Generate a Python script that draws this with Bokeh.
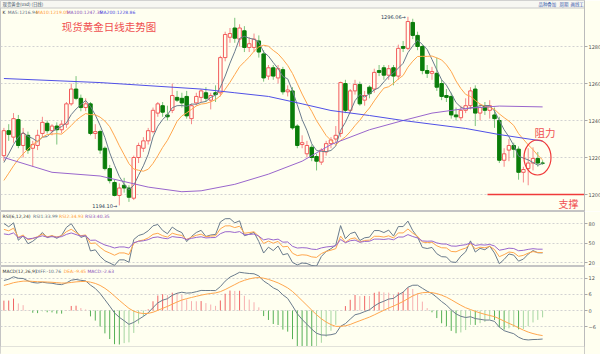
import numpy as np
from bokeh.plotting import figure
from bokeh.layouts import column
from bokeh.models import Range1d, FixedTicker, ColumnDataSource, BoxAnnotation, Label
from bokeh.core.properties import value
from bokeh.embed import file_html
from bokeh.resources import INLINE

# ---------------- data ----------------
opens = [1221, 1234.5, 1231, 1240.5, 1226.5, 1232, 1225, 1226.5, 1233, 1238.5,
         1234.5, 1237, 1235, 1238, 1249, 1257, 1252, 1247, 1249, 1233,
         1234, 1225, 1214, 1206.5, 1199.5, 1205, 1203.5, 1198, 1220, 1225,
         1229, 1234, 1244, 1248, 1243, 1245.5, 1252.5, 1252, 1253, 1241,
         1249.5, 1252.5, 1255, 1251, 1255, 1255, 1274, 1285, 1290, 1284,
         1288.5, 1279.5, 1279.5, 1283, 1276, 1264, 1268.5, 1263, 1267.5, 1255.5,
         1256, 1237, 1227, 1222, 1225.5, 1220.5, 1217.5, 1223, 1227.5, 1230,
         1233, 1260, 1245.5, 1256, 1259.5, 1251, 1258, 1257, 1267, 1268.5,
         1264.5, 1268.5, 1264, 1280, 1279, 1293, 1286, 1280, 1267, 1265.5,
         1265.5, 1260, 1253.5, 1253, 1243, 1241.5, 1245.5, 1248, 1257, 1244,
         1248, 1245.5, 1243, 1240, 1218.5, 1224, 1226.5, 1224.5, 1212, 1214,
         1217, 1219.5, 1217]
highs = [1236, 1238, 1244, 1243, 1236, 1234, 1229, 1235, 1242, 1240,
         1238, 1239, 1240, 1250, 1260, 1264, 1254, 1252, 1250, 1238,
         1235, 1226, 1216, 1208, 1206, 1209, 1205, 1221, 1228, 1231,
         1236, 1247, 1250, 1250, 1248, 1260, 1256, 1255, 1256, 1249,
         1255, 1257, 1258, 1255, 1259, 1275, 1288, 1290, 1295.5, 1292,
         1291, 1285, 1287, 1286, 1278, 1270, 1270, 1270, 1269, 1259,
         1258, 1238, 1232, 1229, 1227, 1222, 1225, 1229, 1231, 1237,
         1261, 1262, 1257, 1262, 1261, 1256, 1259, 1268, 1270, 1270,
         1270, 1270, 1281, 1283, 1296.06, 1295, 1288, 1281, 1270, 1269,
         1274, 1262, 1257, 1255, 1247, 1248, 1252, 1258, 1259, 1249,
         1250, 1251, 1247, 1242, 1225, 1230, 1228, 1226, 1215, 1225,
         1225.5, 1223, 1218.5]
lows = [1218, 1229, 1228, 1225, 1220, 1222, 1215, 1224, 1231, 1233,
        1232, 1227, 1233, 1236, 1248, 1251, 1245, 1245, 1232, 1230,
        1222, 1213, 1206, 1199, 1194.1, 1201, 1196, 1197, 1217, 1223,
        1227, 1233, 1242, 1242, 1240, 1244, 1250, 1247, 1241, 1238,
        1248, 1250, 1250, 1246, 1250, 1253, 1272, 1282, 1282, 1280,
        1277, 1277, 1277, 1274, 1261, 1262, 1262, 1260, 1254, 1253,
        1235, 1225, 1225, 1220, 1218, 1213, 1216, 1221, 1225, 1228,
        1231, 1244, 1244, 1254, 1248, 1248, 1252, 1255, 1264, 1262,
        1262, 1259, 1262, 1277, 1278, 1284, 1278, 1265, 1263, 1262,
        1256, 1251, 1250, 1241, 1240, 1240, 1244, 1246, 1237, 1240,
        1243, 1241, 1236, 1217, 1215, 1218, 1220, 1208, 1206.5, 1205,
        1213, 1215, 1216]
closes = [1234.5, 1232.5, 1241, 1226.5, 1233, 1224, 1227, 1232, 1239, 1234.5,
          1237, 1235, 1238, 1249, 1257, 1252, 1247, 1249, 1233, 1234,
          1224, 1214, 1207.5, 1199.5, 1203.5, 1203.5, 1198.5, 1220, 1226.5, 1229,
          1234.5, 1245.5, 1249, 1244.5, 1242, 1253.5, 1251, 1249.5, 1242.5, 1248,
          1253, 1256, 1252, 1253.5, 1254, 1274, 1286.5, 1287, 1284.5, 1290,
          1279.5, 1281.5, 1284, 1277, 1263, 1268.5, 1264, 1268, 1255.5, 1256.5,
          1236, 1226.5, 1228, 1226.5, 1220, 1218, 1224, 1227.5, 1229.5, 1232,
          1260.5, 1245.5, 1256, 1259.5, 1249, 1253.5, 1254.5, 1266, 1266, 1264.5,
          1268, 1264, 1279, 1279, 1293.5, 1286, 1280, 1267, 1265.5, 1266.5,
          1258, 1253, 1252.5, 1243, 1242, 1245.5, 1248, 1256, 1244, 1247,
          1245.5, 1248, 1241, 1218.5, 1222, 1226.5, 1224.5, 1212, 1213.5, 1217,
          1219.5, 1217, 1216.9]

# moving-average values at the first bars (depend on bars before the window)
ma5_head = [1217.3, 1222.0, 1227.0, 1231.0]
ma10_head = [1207.6, 1211.5, 1215.5, 1219.0, 1222.0, 1224.5, 1227.0, 1229.0, 1231.0]
# long averages
ma100_idx = [0, 10, 20, 30, 37, 41, 48, 55, 62, 68, 76, 83, 89, 96, 103, 112]
ma100_val = [1220, 1212, 1210, 1204, 1201.5, 1202, 1205.5, 1211, 1218, 1227,
             1235, 1240, 1244, 1246.5, 1247.8, 1247.35]
ma200_idx = [0, 20, 41, 48, 55, 62, 68, 76, 83, 89, 96, 103, 112]
ma200_val = [1262.7, 1260.5, 1257, 1255, 1253, 1249, 1245.4, 1242.7, 1240,
             1238, 1235.7, 1232.4, 1228.86]

# indicator states at the first bar
rsi_periods = [6, 12, 24]
rsi_first = [80.0, 71.0, 64.0]
rsi_first_abs = [6.0, 5.5, 5.0]
ema12_first = 1216.0
ema26_first = 1204.75
dea_first = 9.4

legend_main = [("K", "#333333"), ("MA5:1216.94", "#5E6E80"), ("MA10:1219.05", "#FF9A33"),
               ("MA100:1247.35", "#8A4FB8"), ("MA200:1228.86", "#4A4AE0")]
legend_rsi = [("RSI(6,12,24)", "#333333"), ("RSI1:33.99", "#5E6E80"),
              ("RSI2:34.93", "#FF9A33"), ("RSI3:40.35", "#8A4FB8")]
legend_macd = [("MACD(12,26,9)", "#333333"), ("DIFF:-10.76", "#5E6E80"),
               ("DEA:-9.45", "#FF9A33"), ("MACD:-2.63", "#8A4FB8")]
top_left_text = "现货黄金(usd) (日线)"
top_right_texts = ["品种叠加", "周期", "画线工具"]

main_ticks = [1200, 1220, 1240, 1260, 1280]
rsi_ticks = [20, 50, 80]
macd_ticks = [-6, 0, 6, 12]
month_idx = [17, 40, 58, 81, 103]
month_lab = ["03", "04", "05", "06", "07"]
first_label = "2017/02"
period_label = "日线"

# ---------------- layout constants ----------------
BG = "#FFFFF0"
FW = 584          # frame width
X0, DX = 3.4, 4.81
RED, RED_W = "#F25A5A", "#F58A8A"
GRN, GRN_W = "#0A7D0A", "#7CC47C"
C5, C10, C100, C200 = "#6A7B8C", "#FFA64D", "#9966CC", "#5050E6"
NUM_FONT = value("DejaVu Sans")
CJK_FONT = value("Noto Sans CJK SC")


def gx(px):
    return (px - X0) / DX


def ym(py):
    return 1200 + (194 - py) / 1.85


def yr(py):
    return 50 + (242.5 - py) / 0.65


def yd(py):
    return (310 - py) / 2.667


xr = Range1d(gx(0), gx(FW))
n = len(closes)
idx = np.arange(n)
o = np.array(opens, float); c = np.array(closes, float)
h = np.array(highs, float); l = np.array(lows, float)

ma5 = [ma5_head[i] if i < 4 else float(np.mean(c[i - 4:i + 1])) for i in range(n)]
ma10 = [ma10_head[i] if i < 9 else float(np.mean(c[i - 9:i + 1])) for i in range(n)]


def rsi(cl, per, r0, a0):
    up = r0 / 100.0 * a0; ab = a0; out = [r0]
    for k in range(1, len(cl)):
        d = cl[k] - cl[k - 1]
        up = (max(d, 0) + (per - 1) * up) / per
        ab = (abs(d) + (per - 1) * ab) / per
        out.append(100 * up / ab if ab > 0 else 50)
    return out


rsis = [rsi(c, p_, r0, a0) for p_, r0, a0 in zip(rsi_periods, rsi_first, rsi_first_abs)]

e12, e26, dea = ema12_first, ema26_first, dea_first
diffs, deas = [e12 - e26], [dea]
for k in range(1, n):
    e12 = (2 * c[k] + 11 * e12) / 13
    e26 = (2 * c[k] + 25 * e26) / 27
    d_ = e12 - e26
    dea = (2 * d_ + 8 * dea) / 10
    diffs.append(d_); deas.append(dea)
macd = [2 * (a - b) for a, b in zip(diffs, deas)]


def panel(frame_h, ylo, yhi, ticks):
    p = figure(frame_width=FW, frame_height=frame_h, x_range=xr, y_range=Range1d(ylo, yhi),
               output_backend="svg", toolbar_location=None, title=None,
               x_axis_location=None, y_axis_location="right",
               min_border_left=0, min_border_right=16, min_border_top=0, min_border_bottom=0,
               background_fill_color=BG, border_fill_color=BG, outline_line_color="#C4C4C4")
    ax = p.yaxis[0]
    ax.ticker = FixedTicker(ticks=ticks)
    ax.major_label_text_font_size = "5px"
    ax.major_label_text_font = "DejaVu Sans"
    ax.major_label_text_color = "#555555"
    ax.major_tick_in = 0; ax.major_tick_out = 3
    ax.minor_tick_in = 0; ax.minor_tick_out = 0
    ax.major_label_standoff = 1
    ax.axis_line_color = "#BBBBBB"; ax.major_tick_line_color = "#AAAAAA"
    p.xgrid.visible = False
    p.ygrid.ticker = FixedTicker(ticks=ticks)
    p.ygrid.grid_line_color = "#D2D2D2"; p.ygrid.grid_line_dash = "2 2"
    return p


def legend(p, items, x_start_px, yv, gap_px=3.0, cw=2.3):
    xpx = x_start_px
    for t, col in items:
        p.text(x=[gx(xpx)], y=[yv], text=[t], text_font=NUM_FONT, text_font_size="4.5px",
               text_color=col, text_baseline="middle", text_align="left")
        xpx += len(t) * cw + gap_px


# ---------------- main candlestick panel (with the window's top bar) ----------------
main = panel(211, ym(211), ym(0), main_ticks)
main.add_layout(BoxAnnotation(bottom=ym(7.5), fill_color="#F7F7F2", fill_alpha=1.0,
                              line_color=None, level="underlay"))
main.segment(x0=[gx(0)], y0=[ym(7.5)], x1=[gx(FW)], y1=[ym(7.5)], line_color="#C8C8C8", line_width=1)
main.text(x=[gx(2)], y=[ym(3.8)], text=[top_left_text], text_font=CJK_FONT, text_font_size="4.4px",
          text_color="#445566", text_baseline="middle")
main.text(x=[gx(538), gx(559), gx(570)], y=[ym(3.8)] * 3, text=top_right_texts, text_font=CJK_FONT,
          text_font_size="4.4px", text_color="#3355AA", text_baseline="middle")

inc = c >= o
src_up = ColumnDataSource(dict(x=idx[inc], hi=h[inc], lo=l[inc], top=c[inc], bot=o[inc]))
src_dn = ColumnDataSource(dict(x=idx[~inc], hi=h[~inc], lo=l[~inc], top=o[~inc], bot=c[~inc]))
main.segment(x0="x", y0="lo", x1="x", y1="hi", source=src_up, line_color=RED_W, line_width=1)
main.vbar(x="x", width=0.72, top="top", bottom="bot", source=src_up,
          fill_color=BG, line_color=RED, line_width=1)
main.segment(x0="x", y0="lo", x1="x", y1="hi", source=src_dn, line_color=GRN_W, line_width=1)
main.vbar(x="x", width=0.72, top="top", bottom="bot", source=src_dn,
          fill_color=GRN, line_color=GRN, line_width=1)

main.line(idx, ma5, line_color=C5, line_width=1)
main.line(idx, ma10, line_color=C10, line_width=1)
main.line(ma100_idx, ma100_val, line_color=C100, line_width=1)
main.line(ma200_idx, ma200_val, line_color=C200, line_width=1)

legend(main, legend_main, 2, ym(11.8))
main.text(x=[gx(108.5)], y=[ym(26)], text=["现货黄金日线走势图"], text_font=CJK_FONT,
          text_font_size="10.5px", text_color="#F05050", text_align="center", text_baseline="middle")
hi_i = int(np.argmax(h)); lo_i = int(np.argmin(l))
main.text(x=[hi_i - 0.45], y=[h[hi_i]], text=[f"{h[hi_i]:.2f}→"], text_font=NUM_FONT,
          text_font_size="5px", text_color="#2B3A55", text_align="right", text_baseline="middle")
main.text(x=[lo_i - 0.45], y=[l[lo_i] - 0.3], text=[f"{l[lo_i]:.2f}→"], text_font=NUM_FONT,
          text_font_size="5px", text_color="#2B3A55", text_align="right", text_baseline="middle")
# annotations: resistance circle, support line
main.ellipse(x=[gx(537)], y=[ym(157)], width=27 / DX, height=35 / 1.85,
             fill_alpha=0, line_color="#F03A3A", line_width=1.2)
main.segment(x0=[gx(487)], y0=[1200], x1=[gx(FW)], y1=[1200], line_color="#F03A3A", line_width=1.3)
main.text(x=[gx(544.5)], y=[ym(131.5)], text=["阻力"], text_font=CJK_FONT, text_font_size="10.5px",
          text_color="#F05050", text_align="center", text_baseline="middle")
main.text(x=[gx(568)], y=[ym(202.5)], text=["支撑"], text_font=CJK_FONT, text_font_size="10px",
          text_color="#F05050", text_align="center", text_baseline="middle")

# ---------------- RSI panel ----------------
rp = panel(55, yr(266), yr(211), rsi_ticks)
for series, col in zip(rsis, [C5, C10, C100]):
    rp.line(idx, series, line_color=col, line_width=1)
legend(rp, legend_rsi, 2, yr(216.3))

# ---------------- MACD panel (with the date row at its foot) ----------------
mp = panel(88, yd(354), yd(266), macd_ticks)
cols = []
for k in range(n):
    prev = macd[k - 1] if k > 0 else 0
    if macd[k] >= 0:
        cols.append("#F06464" if macd[k] >= prev else "#F7B0B0")
    else:
        cols.append("#55B055" if macd[k] <= prev else "#A6D6A0")
mp.segment(x0=idx, y0=np.zeros(n), x1=idx, y1=macd, line_color=cols, line_width=1)
mp.line(idx, diffs, line_color=C5, line_width=1)
mp.line(idx, deas, line_color=C10, line_width=1)
legend(mp, legend_macd, 2, yd(271.3))

# date row
mp.add_layout(BoxAnnotation(top=yd(346), fill_color=BG, fill_alpha=1.0, line_color=None, level="overlay"))
mp.segment(x0=[gx(0)], y0=[yd(346)], x1=[gx(FW)], y1=[yd(346)], line_color="#C4C4C4", line_width=1)
mp.text(x=month_idx, y=[yd(349.6)] * len(month_idx), text=month_lab, text_font=NUM_FONT,
        text_font_size="4.4px", text_color="#555555", text_align="center", text_baseline="middle")
mp.segment(x0=[m - 1.0 for m in month_idx], y0=[yd(347)] * len(month_idx),
           x1=[m - 1.0 for m in month_idx], y1=[yd(352)] * len(month_idx), line_color="#C8C8C8")
mp.text(x=[gx(1)], y=[yd(349.6)], text=[first_label], text_font=NUM_FONT, text_font_size="4.4px",
        text_color="#555555", text_align="left", text_baseline="middle")
mp.add_layout(Label(x=gx(588.5), y=yd(349.6), text=period_label, text_font="Noto Sans CJK SC",
                    text_font_size="4.4px", text_color="#555555", text_baseline="middle"))

layout = column(main, rp, mp, spacing=0)
open("out.html", "w").write(file_html(layout, INLINE))
